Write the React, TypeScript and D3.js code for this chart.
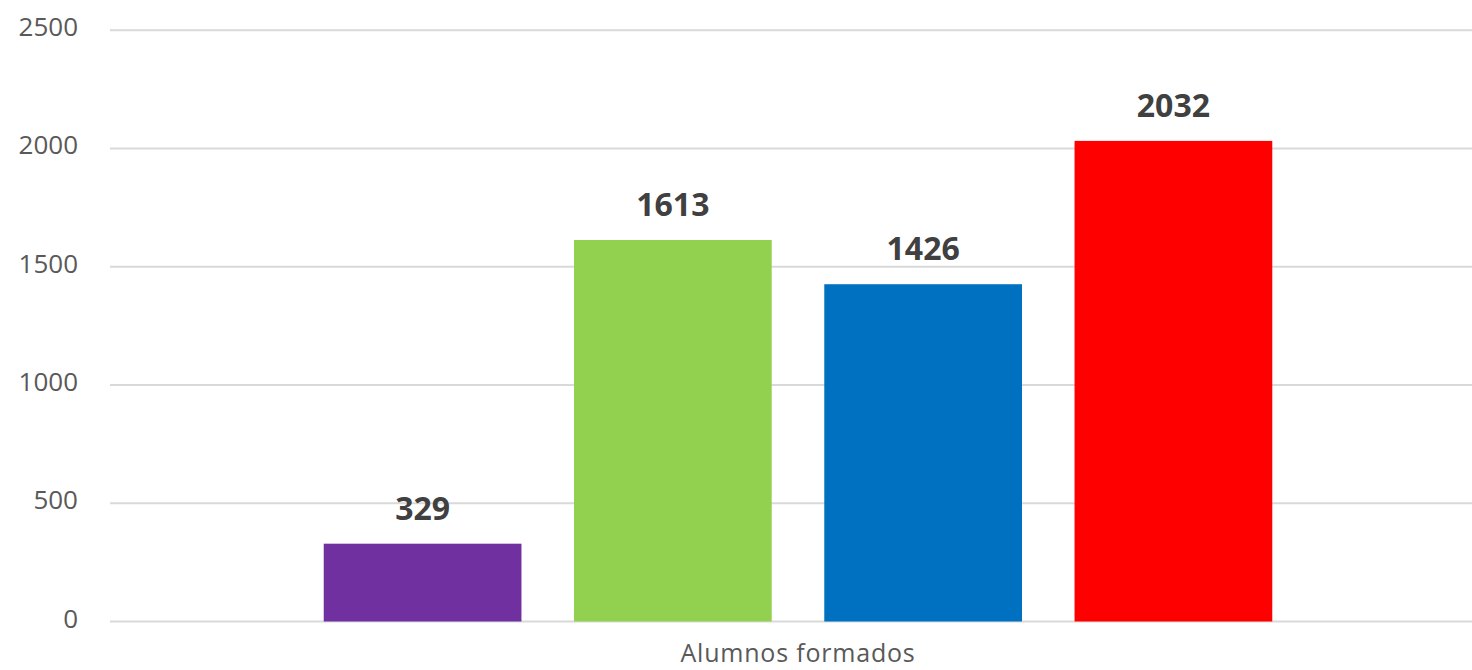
import React from "react";
import * as d3 from "d3";

const categories = ["Alumnos formados"];
const seriesNames = ["Serie 1", "Serie 2", "Serie 3", "Serie 4"];
const seriesValues = [329, 1613, 1426, 2032];
const seriesColors = ["#7030A0", "#92D050", "#0070C0", "#FF0000"];
const yTicks = [0, 500, 1000, 1500, 2000, 2500];

const W = 1472;
const H = 670;

export default function App() {
  const y = d3.scaleLinear().domain([0, 2500]).range([621.5, 30.2]);
  const x0 = d3.scaleBand<string>().domain(categories).range([111, 1485]).padding(0);
  const x1 = d3
    .scaleBand<string>()
    .domain(seriesNames)
    .range([0, x0.bandwidth()])
    .paddingInner(0.21)
    .paddingOuter(0.85);
  const font = "'Open Sans', 'Noto Sans', sans-serif";
  return (
    <svg
      width={W}
      height={H}
      style={{ position: "absolute", left: 0, top: 0, background: "#fff" }}
    >
      {yTicks.map((t) => (
        <g key={t}>
          <line x1={110} x2={1485} y1={y(t)} y2={y(t)} stroke="#d9d9d9" strokeWidth={2} />
          <text
            x={78}
            y={y(t) + 6}
            textAnchor="end"
            fontFamily={font}
            fontSize={26}
            fill="#595959"
          >
            {t}
          </text>
        </g>
      ))}
      {categories.map((c) => (
        <g key={c} transform={`translate(${x0(c)},0)`}>
          {seriesNames.map((s, i) => {
            const v = seriesValues[i];
            const bx = x1(s)!;
            return (
              <g key={s}>
                <rect
                  x={bx}
                  y={y(v)}
                  width={x1.bandwidth()}
                  height={y(0) - y(v)}
                  fill={seriesColors[i]}
                />
                <text
                  x={bx + x1.bandwidth() / 2}
                  y={y(v) - 24}
                  textAnchor="middle"
                  fontFamily={font}
                  fontWeight={700}
                  fontSize={32}
                  fill="#404040"
                >
                  {v}
                </text>
              </g>
            );
          })}
          <text
            x={x0.bandwidth() / 2}
            y={662}
            textAnchor="middle"
            fontFamily={font}
            fontSize={25}
            fill="#595959"
            letterSpacing={0.8}
          >
            {c}
          </text>
        </g>
      ))}
    </svg>
  );
}
